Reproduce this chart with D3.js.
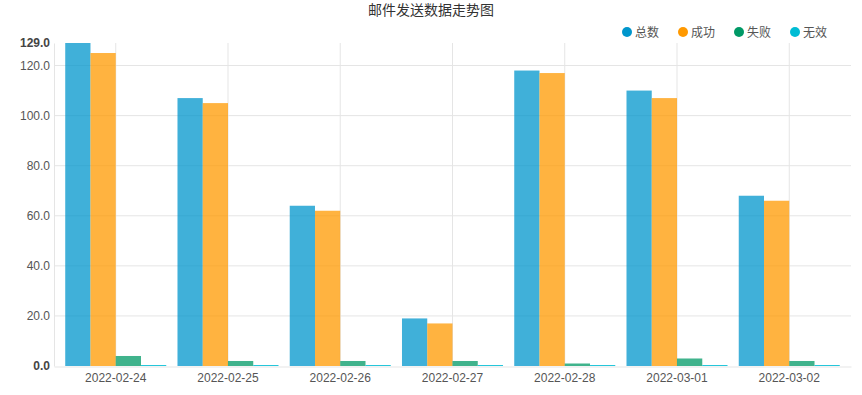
<!DOCTYPE html>
<html>
<head>
<meta charset="utf-8">
<script src="https://cdn.jsdelivr.net/npm/d3@7"></script>
<style>
  body { margin: 0; background: #fff; font-family: "Liberation Sans", Arial, sans-serif; }
  .tick text { fill: #555; font-size: 12px; }
  .grid line { stroke: #e5e5e5; }
</style>
</head>
<body>
<div id="chart"></div>
<script>
var dates = ["2022-02-24", "2022-02-25", "2022-02-26", "2022-02-27", "2022-02-28", "2022-03-01", "2022-03-02"];
var seriesNames = ["总数", "成功", "失败", "无效"];
var total   = [129, 107, 64, 19, 118, 110, 68];
var success = [125, 105, 62, 17, 117, 107, 66];
var failed  = [4, 2, 2, 2, 1, 3, 2];
var invalid = [0, 0, 0, 0, 0, 0, 0];
var yTicks = [20, 40, 60, 80, 100, 120];
var yMax = 129;

var colors = ["#0096cc", "#ff9900", "#009966", "#00bcd4"];
var series = [total, success, failed, invalid];

var width = 862, height = 395;
var margin = {top: 43, right: 11, bottom: 29, left: 54};
var innerW = width - margin.left - margin.right,
    innerH = height - margin.top - margin.bottom;

var svg = d3.select("#chart").append("svg")
  .attr("width", width)
  .attr("height", height);

// title
svg.append("text")
  .attr("x", width / 2)
  .attr("y", 15)
  .attr("text-anchor", "middle")
  .style("font-family", "'Noto Sans CJK SC', sans-serif")
  .style("font-size", "14px")
  .style("fill", "#333")
  .text("邮件发送数据走势图");

var g = svg.append("g")
  .attr("transform", "translate(" + margin.left + "," + margin.top + ")");

var x0 = d3.scaleBand()
  .domain(dates)
  .range([0, innerW])
  .paddingInner(0.1)
  .paddingOuter(0.1);

var x1 = d3.scaleBand()
  .domain(d3.range(series.length))
  .range([0, x0.bandwidth()]);

var y = d3.scaleLinear()
  .domain([0, yMax])
  .range([innerH, 0]);

// horizontal grid
g.append("g").attr("class", "grid")
  .selectAll("line")
  .data(yTicks)
  .enter().append("line")
  .attr("x1", 0).attr("x2", innerW)
  .attr("y1", function(d) { return y(d); })
  .attr("y2", function(d) { return y(d); });

// vertical grid at band centers
g.append("g").attr("class", "grid")
  .selectAll("line")
  .data(dates)
  .enter().append("line")
  .attr("x1", function(d) { return x0(d) + x0.bandwidth() / 2; })
  .attr("x2", function(d) { return x0(d) + x0.bandwidth() / 2; })
  .attr("y1", 0).attr("y2", innerH);

// bars (zero values still get a 1px sliver)
var groups = g.selectAll(".grp")
  .data(dates)
  .enter().append("g")
  .attr("class", "grp")
  .attr("transform", function(d) { return "translate(" + x0(d) + ",0)"; });

groups.selectAll("rect")
  .data(function(d, i) { return series.map(function(s, k) { return {k: k, v: s[i]}; }); })
  .enter().append("rect")
  .attr("x", function(d) { return x1(d.k); })
  .attr("width", x1.bandwidth())
  .attr("y", function(d) { return Math.min(y(d.v), innerH - 1); })
  .attr("height", function(d) { return Math.max(innerH - y(d.v), 1); })
  .attr("fill", function(d) { return colors[d.k]; })
  .attr("fill-opacity", function(d) { return d.v === 0 ? 0.85 : 0.75; });

// x axis
var xAxis = g.append("g")
  .attr("transform", "translate(0," + (innerH + 0.5) + ")")
  .call(d3.axisBottom(x0).tickSize(0).tickPadding(7));
xAxis.select(".domain").attr("stroke", "#e5e5e5");
xAxis.selectAll("text").style("font-size", "12px").style("fill", "#555");

// y axis
var yAxis = g.append("g")
  .call(d3.axisLeft(y).tickValues([0].concat(yTicks).concat([yMax])).tickSize(0).tickPadding(4)
    .tickFormat(d3.format(".1f")));
yAxis.select(".domain").attr("stroke", "#e5e5e5");
yAxis.selectAll(".tick text")
  .style("font-weight", function(d) { return (d === 0 || d === yMax) ? "bold" : "normal"; })
  .style("fill", function(d) { return (d === 0 || d === yMax) ? "#444" : "#555"; });

// legend
var legend = svg.append("g")
  .selectAll("g")
  .data(seriesNames)
  .enter().append("g")
  .attr("transform", function(d, i) { return "translate(" + (627 + i * 56) + ",32)"; });

legend.append("circle")
  .attr("r", 5)
  .attr("fill", function(d, i) { return colors[i]; });

legend.append("text")
  .attr("x", 8)
  .attr("y", 4.5)
  .style("font-family", "'Noto Sans CJK SC', sans-serif")
  .style("font-size", "12px")
  .style("fill", "#555")
  .text(function(d) { return d; });
</script>
</body>
</html>
